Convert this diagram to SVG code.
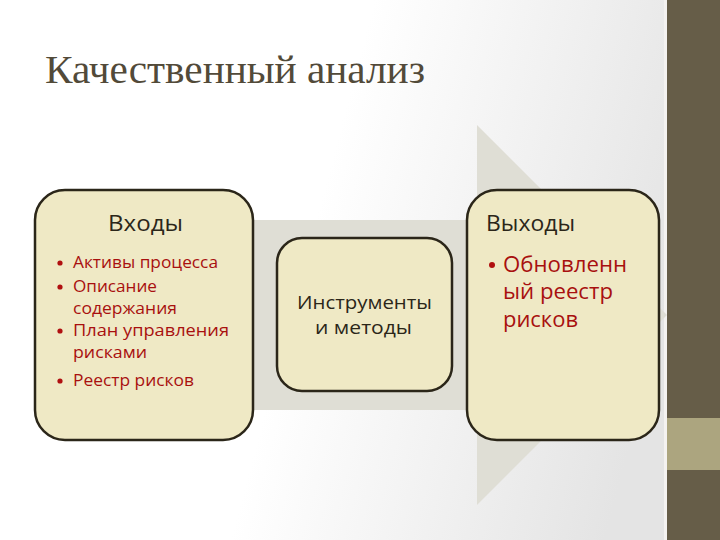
<svg xmlns="http://www.w3.org/2000/svg" width="720" height="540" viewBox="0 0 720 540">
<defs>
<linearGradient id="bg" x1="0" y1="0" x2="1" y2="0.2">
<stop offset="0.5" stop-color="#ffffff"/>
<stop offset="1" stop-color="#e4e4e4"/>
</linearGradient>
<style>
.box{fill:#efe9c5;stroke:#2b2619;stroke-width:2.5}
.head{font-family:"Open Sans","Noto Sans","Liberation Sans",sans-serif;fill:#2b2619}
.item{font-family:"Open Sans","Noto Sans","Liberation Sans",sans-serif;fill:#a8100f}
.dot{fill:#b01010}
</style>
</defs>
<rect width="720" height="540" fill="url(#bg)"/>
<rect x="664" y="0" width="3" height="540" fill="#f4f2f0"/>
<rect x="667" y="0" width="53" height="540" fill="#665d48"/>
<rect x="667" y="418" width="53" height="52" fill="#aca57f"/>
<text x="45" y="83" font-family="Liberation Serif,serif" font-size="41" fill="#524a39" textLength="380" lengthAdjust="spacingAndGlyphs">Качественный анализ</text>
<g id="connectors">
<polygon points="40,220 477,220 477,125 667,315 477,505 477,410 40,410" fill="#dfded5"/>
</g>
<g id="inputs">
<rect class="box" x="35" y="190" width="218" height="250" rx="30"/>
<text class="head" x="108" y="231" font-size="21" textLength="75" lengthAdjust="spacingAndGlyphs">Входы</text>
<g class="item" font-size="16.5">
<circle class="dot" cx="60" cy="263" r="2.6"/>
<text x="73" y="268" textLength="145" lengthAdjust="spacingAndGlyphs">Активы процесса</text>
<circle class="dot" cx="60" cy="287" r="2.6"/>
<text x="73" y="292" textLength="84" lengthAdjust="spacingAndGlyphs">Описание</text>
<text x="73" y="314" textLength="104" lengthAdjust="spacingAndGlyphs">содержания</text>
<circle class="dot" cx="60" cy="331" r="2.6"/>
<text x="73" y="336" textLength="156" lengthAdjust="spacingAndGlyphs">План   управления</text>
<text x="73" y="358" textLength="74" lengthAdjust="spacingAndGlyphs">рисками</text>
<circle class="dot" cx="60" cy="381" r="2.6"/>
<text x="73" y="386" textLength="121" lengthAdjust="spacingAndGlyphs">Реестр рисков</text>
</g>
</g>
<g id="tools">
<rect class="box" x="277" y="238" width="175" height="153" rx="25"/>
<text class="head" x="297" y="309" font-size="18" textLength="135" lengthAdjust="spacingAndGlyphs">Инструменты</text>
<text class="head" x="315" y="334" font-size="18" textLength="97" lengthAdjust="spacingAndGlyphs">и методы</text>
</g>
<g id="outputs">
<rect class="box" x="467" y="190" width="192" height="250" rx="30"/>
<text class="head" x="486" y="231" font-size="21" textLength="89" lengthAdjust="spacingAndGlyphs">Выходы</text>
<circle class="dot" cx="492" cy="265" r="3"/>
<g class="item" font-size="21.5">
<text x="503" y="272" textLength="124" lengthAdjust="spacingAndGlyphs">Обновленн</text>
<text x="503" y="299" textLength="110" lengthAdjust="spacingAndGlyphs">ый реестр</text>
<text x="503" y="327" textLength="75" lengthAdjust="spacingAndGlyphs">рисков</text>
</g>
</g>
</svg>
